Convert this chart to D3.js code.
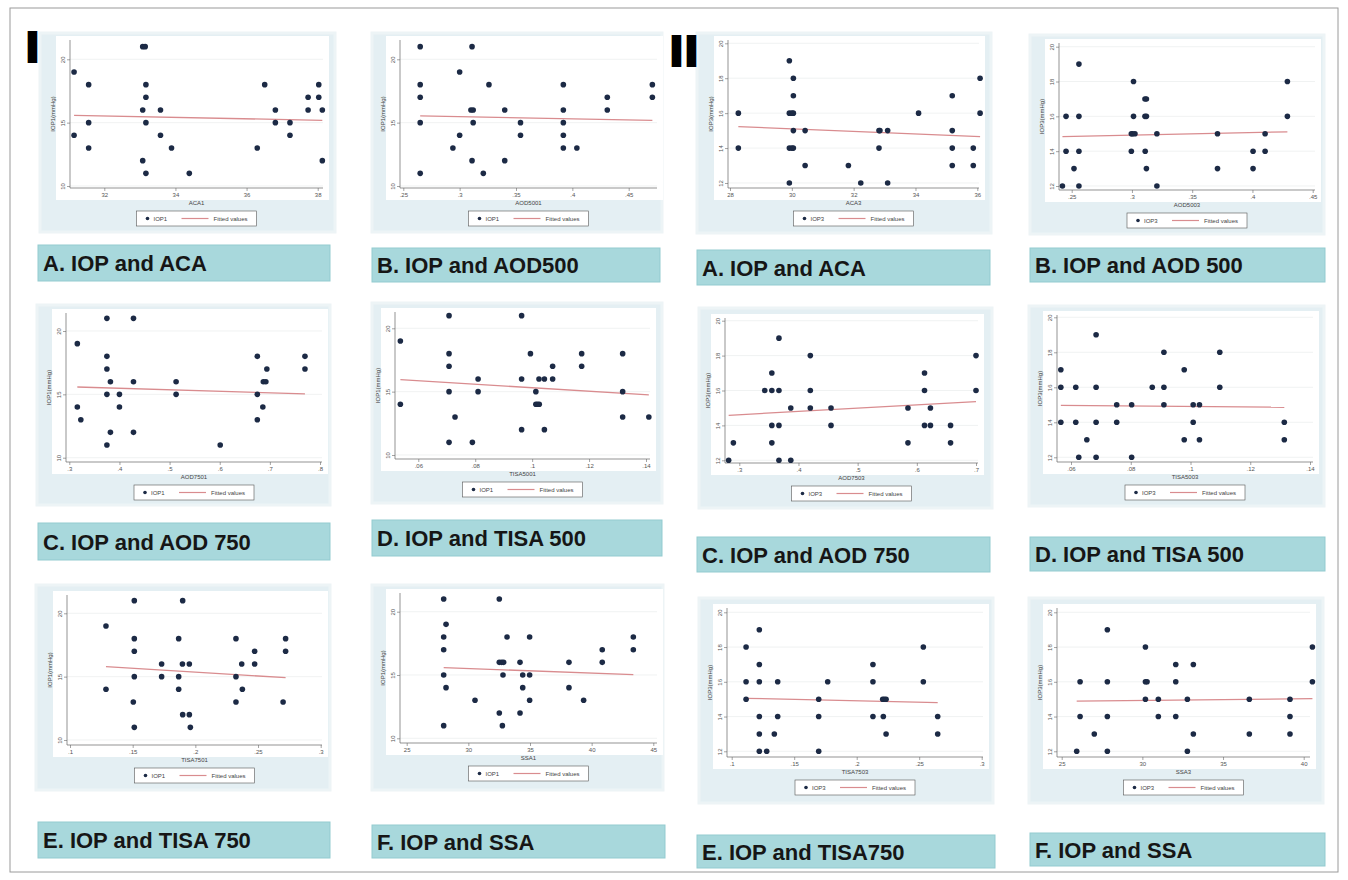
<!DOCTYPE html>
<html lang="en">
<head>
<meta charset="UTF-8">
<title>IOP scatter plots</title>
<style>
  body { margin: 0; background: #fff; }
  svg { display: block; font-family: "Liberation Sans", Arial, sans-serif; }
  .tick text { font-size: 6px; fill: #555; }
  .tick line { stroke: #666; stroke-width: 0.6; }
  .axis-title, .legend text { font-size: 6px; fill: #444; }
  .caption { font-weight: bold; font-size: 22px; fill: #161616; }
  .roman { font-family: "DejaVu Sans", sans-serif; font-weight: bold; font-size: 40px; fill: #000; stroke: #000; stroke-width: 2; }
</style>
</head>
<body>
<svg id="fig" width="1348" height="880"></svg>
<script src="https://d3js.org/d3.v7.min.js"></script>
<script>
// y tick values
const ticksIop1 = [10, 15, 20];
const ticksIop3 = [12, 14, 16, 18, 20];

// x tick values
const ticksAca1 = [32, 34, 36, 38];
const ticksAod500 = [0.25, 0.3, 0.35, 0.4, 0.45];
const ticksAca3 = [28, 30, 32, 34, 36];
const ticksAod7501 = [0.3, 0.4, 0.5, 0.6, 0.7, 0.8];
const ticksAod7503 = [0.3, 0.4, 0.5, 0.6, 0.7];
const ticksTisa500 = [0.06, 0.08, 0.1, 0.12, 0.14];
const ticksTisa750 = [0.1, 0.15, 0.2, 0.25, 0.3];
const ticksSsa1 = [25, 30, 35, 40, 45];
const ticksSsa3 = [25, 30, 35, 40];

// captions under each panel
const captions = [
  "A. IOP and ACA", "B. IOP and AOD500", "A. IOP and ACA", "B. IOP and AOD 500",
  "C. IOP and AOD 750", "D. IOP and TISA 500", "C. IOP and AOD 750", "D. IOP and TISA 500",
  "E. IOP and TISA 750", "F. IOP and SSA", "E. IOP and TISA750", "F. IOP and SSA"
];

// points [x, IOP] and fitted line ends
const ptsAca1 = [[31.15,19],[31.15,14],[31.56,18],[31.56,15],[31.56,13],[33.08,21],[33.15,21],[33.08,16],[33.17,18],[33.17,17],[33.17,15],[33.08,12],[33.17,11],[33.58,16],[33.58,14],[33.89,13],[34.39,11],[36.30,13],[36.51,18],[36.81,16],[36.81,15],[37.22,15],[37.22,14],[37.73,17],[37.73,16],[38.03,18],[38.03,17],[38.13,16],[38.13,12]];
const fitAca1 = [[31.15,15.58],[38.13,15.18]];

const ptsAod5001 = [[.265,21],[.265,18],[.265,17],[.265,15],[.265,11],[.294,13],[.300,19],[.300,14],[.311,21],[.310,16],[.312,16],[.312,15],[.311,12],[.321,11],[.326,18],[.340,16],[.340,12],[.354,15],[.354,14],[.392,18],[.392,16],[.392,15],[.392,14],[.392,13],[.404,13],[.431,17],[.431,16],[.471,18],[.471,17]];
const fitAod5001 = [[.265,15.53],[.471,15.18]];

const ptsAca3 = [[28.27,16],[28.27,14],[29.92,19],[30.05,18],[30.05,17],[29.92,16],[30.0,16],[30.05,16],[30.05,15],[29.92,14],[30.0,14],[30.05,14],[29.92,12],[30.43,15],[30.43,13],[31.83,13],[32.23,12],[32.82,15],[32.85,15],[32.82,14],[33.10,15],[33.10,12],[34.10,16],[35.19,17],[35.19,15],[35.19,14],[35.19,13],[35.87,14],[35.87,13],[36.09,18],[36.09,16]];
const fitAca3 = [[28.27,15.23],[36.09,14.66]];

const ptsAod5003 = [[.2423,12],[.2453,16],[.2453,14],[.2519,13],[.256,19],[.256,16],[.256,14],[.256,12],[.2995,15],[.3005,15],[.3025,15],[.2995,14],[.3013,18],[.3013,16],[.3108,17],[.312,17],[.3108,16],[.312,16],[.311,14],[.312,13],[.3207,15],[.3207,12],[.371,15],[.371,13],[.4005,14],[.4005,13],[.4105,15],[.4105,14],[.429,18],[.429,16]];
const fitAod5003 = [[.2423,14.84],[.429,15.11]];

const ptsAod7501 = [[.316,19],[.316,14],[.323,13],[.375,21],[.375,18],[.375,17],[.375,15],[.375,11],[.382,16],[.382,12],[.400,15],[.400,14],[.428,21],[.428,16],[.428,12],[.513,16],[.513,15],[.601,11],[.675,18],[.675,15],[.675,13],[.686,14],[.687,16],[.692,16],[.694,17],[.770,18],[.770,17]];
const fitAod7501 = [[.316,15.58],[.770,15.03]];

const ptsTisa5001 = [[.0537,19],[.0537,14],[.0708,21],[.0708,18],[.0708,17],[.0708,15],[.0708,11],[.0729,13],[.079,11],[.081,16],[.081,15],[.0963,21],[.0963,16],[.0963,12],[.0994,18],[.1013,15],[.1013,14],[.1019,14],[.1025,14],[.1024,16],[.1043,16],[.1043,12],[.1072,17],[.1072,16],[.1174,18],[.1174,17],[.1318,18],[.1318,15],[.1318,13],[.141,13]];
const fitTisa5001 = [[.0537,15.95],[.141,14.74]];

const ptsAod7503 = [[.282,12],[.290,13],[.343,16],[.355,17],[.355,16],[.355,14],[.355,13],[.367,19],[.367,16],[.367,14],[.367,12],[.387,15],[.387,12],[.420,18],[.420,16],[.420,15],[.455,15],[.455,14],[.585,15],[.585,13],[.613,17],[.613,16],[.613,14],[.623,15],[.623,14],[.657,14],[.657,13],[.700,18],[.700,16]];
const fitAod7503 = [[.282,14.58],[.700,15.36]];

const ptsTisa5003 = [[.0566,17],[.0566,16],[.0566,14],[.0616,16],[.0616,14],[.0626,12],[.0653,13],[.0684,19],[.0684,16],[.0684,14],[.0684,12],[.0753,15],[.0753,14],[.0803,15],[.0803,12],[.0872,16],[.0911,18],[.0911,16],[.0911,15],[.0979,17],[.0979,13],[.1009,15],[.1009,14],[.103,15],[.103,13],[.1098,18],[.1098,16],[.1314,14],[.1314,13]];
const fitTisa5003 = [[.0566,14.97],[.1314,14.86]];

const ptsTisa7501 = [[.1287,19],[.1287,14],[.1513,21],[.1513,18],[.1513,17],[.1513,15],[.1505,13],[.1513,11],[.1731,16],[.1731,15],[.1867,18],[.1867,15],[.1867,14],[.1899,21],[.1897,16],[.1899,12],[.1952,16],[.1952,12],[.196,11],[.2324,18],[.2324,15],[.2324,13],[.237,16],[.2375,14],[.2473,17],[.2473,16],[.272,18],[.272,17],[.270,13]];
const fitTisa7501 = [[.1287,15.79],[.272,14.92]];

const ptsSsa1 = [[28.0,21],[28.0,18],[28.0,17],[28.0,15],[28.0,11],[28.19,19],[28.19,14],[30.54,13],[32.51,21],[32.51,16],[32.70,16],[32.86,16],[32.51,12],[32.81,15],[32.76,11],[33.14,18],[34.19,16],[34.19,12],[34.41,15],[34.41,14],[34.97,18],[34.97,15],[34.97,13],[38.16,16],[38.16,14],[39.35,13],[40.86,17],[40.86,16],[43.38,18],[43.38,17]];
const fitSsa1 = [[28.0,15.58],[43.38,15.03]];

const ptsTisa7503 = [[.1115,18],[.1115,16],[.1115,15],[.1221,19],[.1221,17],[.1221,16],[.1221,14],[.1221,13],[.1221,12],[.128,12],[.1341,13],[.1368,16],[.1368,14],[.1696,15],[.1696,14],[.1696,12],[.1768,16],[.213,17],[.213,16],[.213,14],[.2208,15],[.2221,15],[.2235,15],[.2213,14],[.2235,13],[.2533,18],[.2533,16],[.2648,14],[.2648,13]];
const fitTisa7503 = [[.1115,15.05],[.2648,14.80]];

const ptsSsa3 = [[25.93,12],[26.14,16],[26.14,14],[27.02,13],[27.83,19],[27.83,16],[27.83,14],[27.83,12],[30.19,18],[30.19,16],[30.29,16],[30.19,15],[30.99,15],[30.99,14],[32.07,17],[32.07,16],[32.07,14],[32.79,15],[32.79,12],[33.16,17],[33.16,13],[36.63,15],[36.63,13],[39.15,15],[39.15,14],[39.15,13],[40.54,18],[40.54,16]];
const fitSsa3 = [[25.93,14.89],[40.54,15.03]];

// layout: px = where first/last tick sit, axis = y-axis x, right end, top, x-axis y
const panels = [
  { pts: ptsAca1, fit: fitAca1, xt: ticksAca1, yt: ticksIop1, xpx: [104.3, 317.7], ypx: [186, 59.3],
    axis: [70, 323, 40, 188], box: [40, 33, 295, 199], cap: [38, 245, 292, 36], xlab: "ACA1", s: "IOP1" },
  { pts: ptsAod5001, fit: fitAod5001, xt: ticksAod500, yt: ticksIop1, xpx: [403.3, 628.7], ypx: [186, 59.3],
    axis: [400, 657, 40, 188], box: [372, 33, 290, 199], cap: [372, 248, 288, 34], xlab: "AOD5001", s: "IOP1" },
  { pts: ptsAca3, fit: fitAca3, xt: ticksAca3, yt: ticksIop3, xpx: [730, 977.3], ypx: [183, 43.3],
    axis: [728, 979, 40, 188], box: [697, 33, 294, 200], cap: [697, 250, 293, 35], xlab: "ACA3", s: "IOP3" },
  { pts: ptsAod5003, fit: fitAod5003, xt: ticksAod500, yt: ticksIop3, xpx: [1071.7, 1312.7], ypx: [186, 46.7],
    axis: [1059, 1315, 43, 190], box: [1030, 35, 294, 199], cap: [1030, 248, 295, 34], xlab: "AOD5003", s: "IOP3" },
  { pts: ptsAod7501, fit: fitAod7501, xt: ticksAod7501, yt: ticksIop1, xpx: [69.3, 320], ypx: [457.7, 331],
    axis: [66, 322, 313, 462], box: [37, 305, 293, 200], cap: [38, 523, 292, 37], xlab: "AOD7501", s: "IOP1" },
  { pts: ptsTisa5001, fit: fitTisa5001, xt: ticksTisa500, yt: ticksIop1, xpx: [418.3, 646], ypx: [455, 328.3],
    axis: [395, 650, 312, 459], box: [372, 303, 290, 200], cap: [372, 520, 290, 36], xlab: "TISA5001", s: "IOP1" },
  { pts: ptsAod7503, fit: fitAod7503, xt: ticksAod7503, yt: ticksIop3, xpx: [739.3, 976], ypx: [460.3, 320.7],
    axis: [725, 978, 318, 463], box: [699, 308, 293, 200], cap: [697, 537, 293, 35], xlab: "AOD7503", s: "IOP3" },
  { pts: ptsTisa5003, fit: fitTisa5003, xt: ticksTisa500, yt: ticksIop3, xpx: [1071, 1310], ypx: [457.3, 317.3],
    axis: [1057, 1313, 315, 462], box: [1029, 306, 295, 200], cap: [1030, 537, 295, 34], xlab: "TISA5003", s: "IOP3" },
  { pts: ptsTisa7501, fit: fitTisa7501, xt: ticksTisa750, yt: ticksIop1, xpx: [70, 320.7], ypx: [740, 613.3],
    axis: [67, 322, 595, 745], box: [36, 585, 294, 205], cap: [38, 822, 292, 36], xlab: "TISA7501", s: "IOP1" },
  { pts: ptsSsa1, fit: fitSsa1, xt: ticksSsa1, yt: ticksIop1, xpx: [406.7, 653.3], ypx: [738.3, 611.7],
    axis: [400, 657, 593, 743], box: [372, 585, 291, 205], cap: [372, 825, 293, 33], xlab: "SSA1", s: "IOP1" },
  { pts: ptsTisa7503, fit: fitTisa7503, xt: ticksTisa750, yt: ticksIop3, xpx: [731.7, 981.7], ypx: [751.3, 612.3],
    axis: [727, 983, 608, 757], box: [699, 598, 294, 205], cap: [697, 835, 298, 33], xlab: "TISA7503", s: "IOP3" },
  { pts: ptsSsa3, fit: fitSsa3, xt: ticksSsa3, yt: ticksIop3, xpx: [1061.7, 1303.7], ypx: [751.3, 612.3],
    axis: [1057, 1310, 608, 757], box: [1029, 598, 294, 205], cap: [1030, 833, 295, 33], xlab: "SSA3", s: "IOP3" }
];

const dotColor = "#1c2a45";
const fitColor = "#d98c8f";
const fmt = v => String(+v.toFixed(4)).replace(/^0\./, ".");

const svg = d3.select("#fig");

// outer frame
svg.append("rect").attr("x", 10).attr("y", 8).attr("width", 1328).attr("height", 864)
  .attr("fill", "#fff").attr("stroke", "#9a9a9a").attr("stroke-width", 1);

panels.forEach((p, i) => {
  const [ax0, ax1, ay0, ay1] = p.axis;
  const x = d3.scaleLinear().domain([p.xt[0], p.xt[p.xt.length - 1]]).range(p.xpx);
  const y = d3.scaleLinear().domain([p.yt[0], p.yt[p.yt.length - 1]]).range(p.ypx);
  const g = svg.append("g");

  // graph region + plot region
  g.append("rect").attr("x", p.box[0]).attr("y", p.box[1]).attr("width", p.box[2]).attr("height", p.box[3])
    .attr("fill", "#e4eff3").attr("stroke", "#edf4f6").attr("stroke-width", 3);
  g.append("rect").attr("x", ax0 - 14).attr("y", ay0 - 4).attr("width", ax1 - ax0 + 20).attr("height", ay1 - ay0 + 16)
    .attr("fill", "#fff");

  // faint gridlines
  g.selectAll(".grid").data(p.yt).join("line")
    .attr("x1", ax0).attr("x2", ax1).attr("y1", d => y(d)).attr("y2", d => y(d))
    .attr("stroke", "#e9eded").attr("stroke-width", 0.7);

  // axes
  const xa = g.append("g").attr("transform", `translate(0,${ay1})`)
    .call(d3.axisBottom(x).tickValues(p.xt).tickFormat(fmt).tickSize(3).tickPadding(2));
  xa.select(".domain").remove();
  const ya = g.append("g").attr("transform", `translate(${ax0},0)`)
    .call(d3.axisLeft(y).tickValues(p.yt).tickFormat(fmt).tickSize(3));
  ya.select(".domain").remove();
  ya.selectAll(".tick text").attr("transform", "rotate(-90)").attr("x", 0).attr("y", -5)
    .attr("dy", 0).attr("text-anchor", "middle");
  g.append("line").attr("x1", ax0).attr("x2", ax1).attr("y1", ay1).attr("y2", ay1)
    .attr("stroke", "#666").attr("stroke-width", 0.7);
  g.append("line").attr("x1", ax0).attr("x2", ax0).attr("y1", ay0).attr("y2", ay1)
    .attr("stroke", "#666").attr("stroke-width", 0.7);

  // axis titles
  const cx = (ax0 + ax1) / 2;
  g.append("text").attr("class", "axis-title").attr("x", cx).attr("y", ay1 + 17)
    .attr("text-anchor", "middle").text(p.xlab);
  g.append("text").attr("class", "axis-title")
    .attr("transform", `translate(${ax0 - 15},${(ay0 + ay1) / 2}) rotate(-90)`)
    .attr("text-anchor", "middle").text(p.s + "(mmHg)");

  // fitted line and points
  g.append("path").datum(p.fit)
    .attr("d", d3.line().x(d => x(d[0])).y(d => y(d[1])))
    .attr("fill", "none").attr("stroke", fitColor).attr("stroke-width", 1.3);
  g.selectAll(".pt").data(p.pts).join("circle")
    .attr("cx", d => x(d[0])).attr("cy", d => y(d[1])).attr("r", 2.8).attr("fill", dotColor);

  // legend
  const lw = 120, lh = 15, lx = cx - lw / 2, ly = ay1 + 23;
  const lg = g.append("g").attr("class", "legend");
  lg.append("rect").attr("x", lx).attr("y", ly).attr("width", lw).attr("height", lh)
    .attr("fill", "#fff").attr("stroke", "#555").attr("stroke-width", 0.6);
  lg.append("circle").attr("cx", lx + 11).attr("cy", ly + lh / 2).attr("r", 1.8).attr("fill", dotColor);
  lg.append("text").attr("x", lx + 17).attr("y", ly + lh / 2 + 2).text(p.s);
  lg.append("line").attr("x1", lx + 45).attr("x2", lx + 72).attr("y1", ly + lh / 2).attr("y2", ly + lh / 2)
    .attr("stroke", fitColor).attr("stroke-width", 1.2);
  lg.append("text").attr("x", lx + 77).attr("y", ly + lh / 2 + 2).text("Fitted values");

  // caption box
  g.append("rect").attr("x", p.cap[0]).attr("y", p.cap[1]).attr("width", p.cap[2]).attr("height", p.cap[3])
    .attr("fill", "#a8d8dc").attr("stroke", "#93cbd0").attr("stroke-width", 1);
  g.append("text").attr("class", "caption").attr("x", p.cap[0] + 5).attr("y", p.cap[1] + p.cap[3] / 2 + 8)
    .text(captions[i]);
});

// panel group markers
svg.append("text").attr("class", "roman").attr("x", 25).attr("y", 62).text("I");
svg.append("text").attr("class", "roman").attr("x", 669).attr("y", 66).text("II");
</script>
</body>
</html>
